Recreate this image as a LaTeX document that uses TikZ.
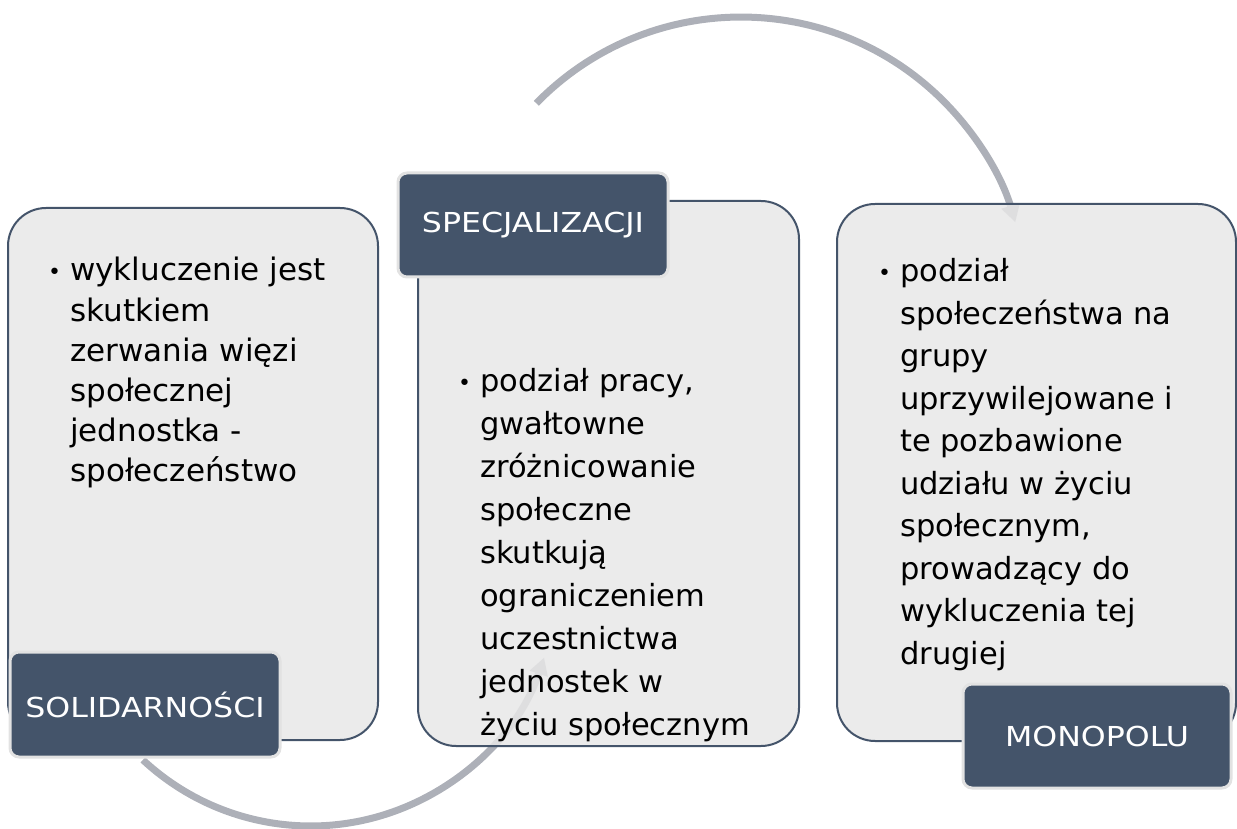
\documentclass[tikz,border=0pt]{standalone}
\usepackage{fontspec}
\setmainfont{DejaVu Sans}
\newfontfamily\tagfont{DejaVu Sans}[FakeStretch=1.15]
\usetikzlibrary{arrows.meta}
\definecolor{slate}{HTML}{44546A}
\definecolor{panelgray}{HTML}{E7E7E7}
\definecolor{flowgray}{HTML}{ADB0B8}
\definecolor{rimgray}{HTML}{E2E2E2}
% hanging bullet in front of the first line of a list item
\newcommand{\itembullet}{\llap{\fontsize{22}{22}\selectfont\raisebox{1pt}{•}\hspace{9pt}}}

\begin{document}
\begin{tikzpicture}[x=1pt,y=1pt,
  panel/.style={draw=slate, line width=2pt, fill=panelgray, fill opacity=0.85,
    rounded corners=38pt, inner sep=0pt},
  tag/.style={fill=slate, draw=rimgray, line width=3pt, rounded corners=9pt,
    text=white, font=\tagfont\fontsize{27.5}{32}\selectfont, inner sep=0pt,
    minimum width=270pt, minimum height=104pt},
  body/.style={anchor=base west, inner sep=0pt, text=black},
  flow/.style={draw=flowgray, line width=7pt, -{Triangle[length=17pt,width=18pt]}},
]
\useasboundingbox (0,0) rectangle (1237,828);

% circular flow arrows behind the panels
\coordinate (topfrom) at (536.3,724.7);
\coordinate (botfrom) at (142.9,68.1);
\draw[flow] (topfrom) arc[start angle=135.7, end angle=16.4, radius=286pt];
\draw[flow] (botfrom) arc[start angle=227, end angle=341.6, radius=246pt];

% content panels
\node[panel, minimum width=370pt, minimum height=532pt] (solpanel) at (193,354) {};
\node[panel, minimum width=381pt, minimum height=545pt] (specpanel) at (608.5,354.5) {};
\node[panel, minimum width=399pt, minimum height=537pt] (monopanel) at (1036.5,355.5) {};

% panel texts
\node[body, font=\fontsize{31}{40.2}\selectfont] (soltext) at (70,547) {%
  \begin{tabular}[t]{@{}l@{}}
  \itembullet wykluczenie jest\\
  skutkiem\\
  zerwania więzi\\
  społecznej\\
  jednostka -\\
  społeczeństwo
  \end{tabular}};

\node[body, font=\fontsize{30.5}{43}\selectfont] (spectext) at (480,436) {%
  \begin{tabular}[t]{@{}l@{}}
  \itembullet podział pracy,\\
  gwałtowne\\
  zróżnicowanie\\
  społeczne\\
  skutkują\\
  ograniczeniem\\
  uczestnictwa\\
  jednostek w\\
  życiu społecznym
  \end{tabular}};

\node[body, font=\fontsize{30.5}{42.5}\selectfont] (monotext) at (900,546) {%
  \begin{tabular}[t]{@{}l@{}}
  \itembullet podział\\
  społeczeństwa na\\
  grupy\\
  uprzywilejowane i\\
  te pozbawione\\
  udziału w życiu\\
  społecznym,\\
  prowadzący do\\
  wykluczenia tej\\
  drugiej
  \end{tabular}};

% title tags
\node[tag] (spectag) at (533,603) {SPECJALIZACJI};
\node[tag, minimum height=105pt] (soltag) at (145,123.5) {SOLIDARNOŚCI};
\node[tag, minimum width=268pt] (monotag) at (1097,92) {MONOPOLU};
\end{tikzpicture}
\end{document}
